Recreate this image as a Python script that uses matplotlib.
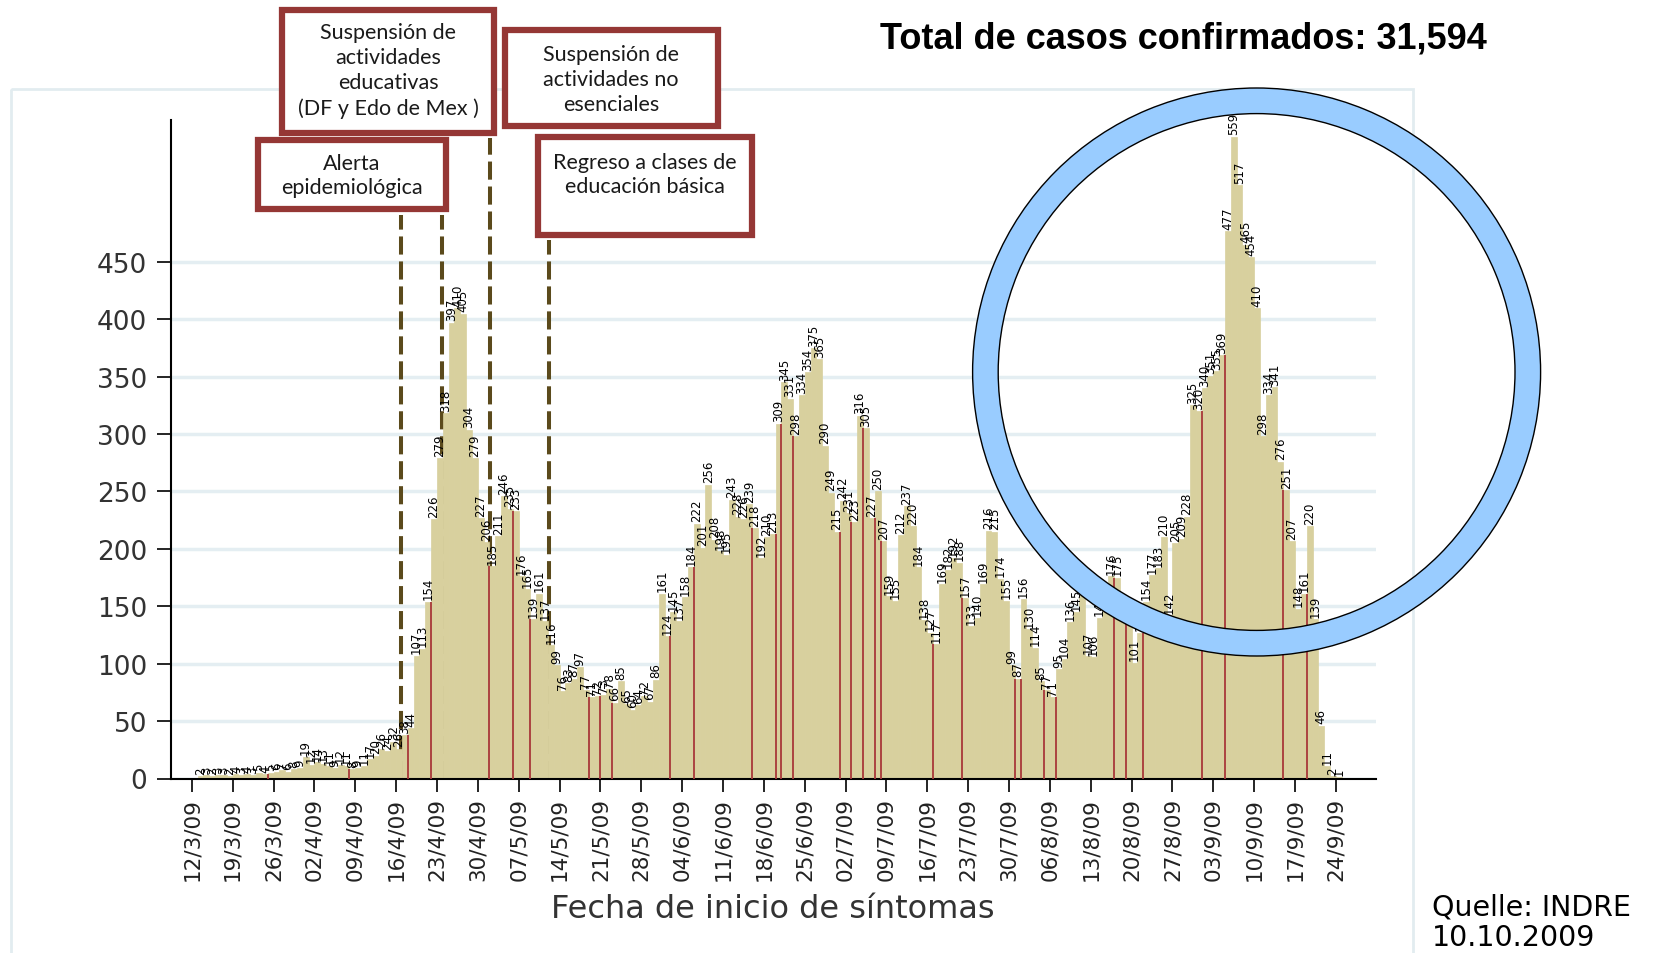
import matplotlib
matplotlib.use('Agg')
import matplotlib.pyplot as plt
from matplotlib.patches import Rectangle, Wedge
import numpy as np

plt.rcParams['font.family'] = ['DejaVu Sans']

# casos confirmados por día de inicio de síntomas (día 1 = 13/3/09)
marzo = [2, 3, 2, 3, 3, 2, 4, 3, 4, 3, 5, 4, 5, 6, 7, 6, 8, 9, 19]
abril = [12, 14, 13, 11, 9, 12, 11, 8, 9, 11, 17, 20, 26, 24, 32, 26, 38, 44,
         107, 113, 154, 226, 279, 318, 397, 410, 405, 304, 279, 227]
mayo = [206, 185, 211, 246, 235, 233, 176, 165, 139, 161, 137, 116, 99, 76, 83,
        87, 97, 77, 71, 72, 73, 78, 66, 85, 65, 60, 64, 72, 67, 86, 161]
junio = [124, 145, 137, 158, 184, 222, 201, 256, 208, 198, 195, 243, 228, 226, 239,
         218, 192, 210, 213, 309, 345, 331, 298, 334, 354, 375, 365, 290, 249, 215]
julio = [242, 231, 223, 316, 305, 227, 250, 207, 159, 155, 212, 237, 220, 184, 138,
         127, 117, 169, 182, 192, 188, 157, 133, 140, 169, 216, 215, 174, 155, 99, 87]
agosto = [156, 130, 114, 85, 77, 71, 95, 104, 136, 145, 160, 107, 106, 140, 150,
          176, 175, 140, 136, 101, 127, 154, 177, 183, 210, 142, 205, 209, 228, 325, 320]
septiembre = [340, 351, 355, 369, 477, 559, 517, 465, 454, 410, 298, 334, 341, 276,
              251, 207, 148, 161, 220, 139, 46, 11, 2, 1]

fechas_ticks = ['12/3/09', '19/3/09', '26/3/09', '02/4/09', '09/4/09', '16/4/09',
                '23/4/09', '30/4/09', '07/5/09', '14/5/09', '21/5/09', '28/5/09',
                '04/6/09', '11/6/09', '18/6/09', '25/6/09', '02/7/09', '09/7/09',
                '16/7/09', '23/7/09', '30/7/09', '06/8/09', '13/8/09', '20/8/09',
                '27/8/09', '03/9/09', '10/9/09', '17/9/09', '24/9/09']

# líneas rojas (bordes de barras) en estos días
dias_rojos = [13, 27, 37, 41, 51, 55, 58, 68, 70, 72, 82, 86, 96, 100, 101, 103,
              111, 113, 115, 117, 118, 127, 132, 141, 142, 146, 148, 158, 160,
              163, 173, 177, 187, 191]

# eventos (día desde 12/3/09)
eventos = [35.9, 42.8, 51.1, 61.2]
eventos_tope = [491, 491, 558, 469]

casos = marzo + abril + mayo + junio + julio + agosto + septiembre
dias = np.arange(1, len(casos) + 1)
valor = dict(zip(dias, casos))
alturas_rojas = [min(valor[d - 1], valor[d]) for d in dias_rojos]

W, H = 1672, 954
fig = plt.figure(figsize=(W / 100, H / 100), dpi=100)
fig.patch.set_facecolor('white')

x0, x1, y0, y1 = 170.6, 1375.5, 121, 779.5
ax = fig.add_axes([x0 / W, 1 - y1 / H, (x1 - x0) / W, (y1 - y0) / H])
px_dia = 5.837
px_val = 1.148
xmin = -(191.8 - x0) / px_dia
ax.set_xlim(xmin, xmin + (x1 - x0) / px_dia)
ax.set_ylim(0, (y1 - y0) / px_val)

barcolor = '#d8d09e'
ax.bar(dias, casos, width=1.0, align='edge', color=barcolor,
       edgecolor=barcolor, linewidth=0.5, zorder=2)
ax.vlines(dias_rojos, 0, alturas_rojas, colors='#a8383a', lw=1.3, zorder=3)
ax.vlines(eventos, 0, eventos_tope, colors='#5b4a1c', lw=2.9,
          linestyles=[(0, (4.5, 1.7))], zorder=1.8)

for d, v in zip(dias, casos):
    ax.text(d + 0.5, v + 2, str(v), rotation=90, ha='center', va='bottom',
            fontsize=8.5, color='black', zorder=4)

ax.set_yticks(range(0, 451, 50))
ax.set_xticks(range(0, 197, 7))
ax.set_xticklabels(fechas_ticks)
ax.yaxis.grid(True, color='#e4eef2', lw=2.5)
ax.set_axisbelow(True)
for s in ['top', 'right']:
    ax.spines[s].set_visible(False)
for s in ['left', 'bottom']:
    ax.spines[s].set_linewidth(1.5)
ax.tick_params(axis='x', length=9.7, width=1.2, pad=3.6, labelsize=15.5,
               labelrotation=90, labelcolor='#222222')
ax.tick_params(axis='y', length=10, width=1.2, pad=7, labelsize=19,
               labelcolor='#333333')
ax.set_xlabel('Fecha de inicio de síntomas', fontsize=23, color='#333333',
              labelpad=9)

# capa superior en pixeles
ov = fig.add_axes([0, 0, 1, 1])
ov.set_xlim(0, W)
ov.set_ylim(H, 0)
ov.axis('off')

ov.add_patch(Rectangle((11, 90), 1402, 900, fill=False, ec='#e2ecf0', lw=2, zorder=1))

recuadros = [
    ((282, 11, 494, 134), 'Suspensión de\nactividades\neducativas\n(DF y Edo de Mex )', (388, 71)),
    ((505, 31, 718, 127), 'Suspensión de\nactividades no\nesenciales', (611, 80)),
    ((258, 141, 446, 210), 'Alerta\nepidemiológica', (352, 176)),
    ((538, 138, 752, 236), 'Regreso a clases de\neducación básica', (645, 175)),
]
for (bx0, by0, bx1, by1), txt, (tx, ty) in recuadros:
    ov.add_patch(Rectangle((bx0, by0), bx1 - bx0, by1 - by0, fc='white',
                           ec='#953735', lw=4.5, zorder=3))
    ov.text(tx, ty, txt, ha='center', va='center', family='Lato', fontsize=15.5,
            linespacing=1.3, color='#1a1a1a', zorder=4)

ov.add_patch(Wedge((1256.6, 373), 284, 0, 360, width=25.6, fc='#99ccff',
                   ec='black', lw=1, zorder=5))

ov.text(1183.5, 48, 'Total de casos confirmados: 31,594', ha='center',
        va='baseline', fontsize=26, fontweight='bold', family='Liberation Sans')
ov.text(1432, 952, 'Quelle: INDRE\n10.10.2009', ha='left', va='bottom',
        fontsize=20.5, linespacing=1.1, color='black')

fig.savefig('out.png', dpi=100)
